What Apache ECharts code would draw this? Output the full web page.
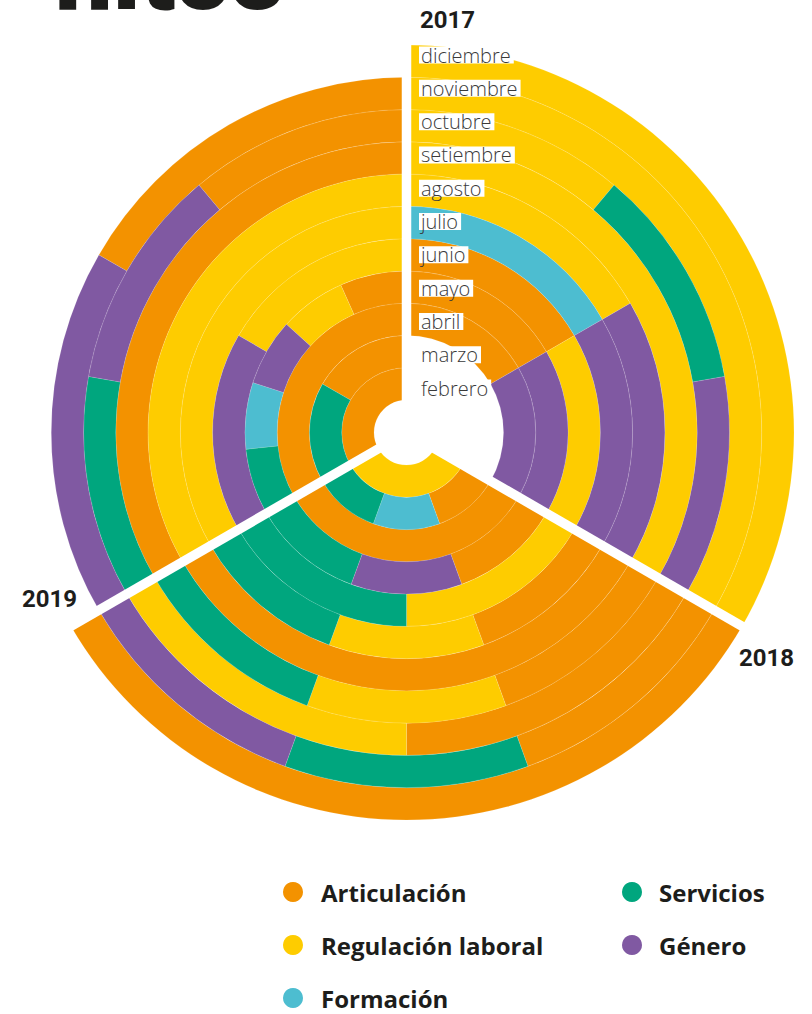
<!DOCTYPE html>
<html><head><meta charset="utf-8">
<script src="https://cdn.jsdelivr.net/npm/echarts@6/dist/echarts.min.js"></script>
<style>html,body{margin:0;padding:0;background:#fff}#c{width:812px;height:1014px}</style>
</head><body><div id="c"></div>
<script>
// ---- data ----
const months = ['febrero','marzo','abril','mayo','junio','julio','agosto','setiembre','octubre','noviembre','diciembre'];
const categories = ['Articulación','Regulación laboral','Formación','Servicios','Género'];
const catColors = ['#F39200','#FECC00','#4DBDD0','#00A67E','#8059A2'];
const years = ['2017','2018','2019'];
const [A, R, F, S, G] = categories;
// hitos per month (inner ring = febrero), in clockwise order inside each year sector
const hitos2017 = [[],[],[A,G],[A,G],[A,R],[F,G],[R,G],[R],[R,S,G],[R],[R]];
const hitos2018 = [[R],[A,F,S],[A],[A,G,S],[R,S],[A,R,S],[A],[A,R,S],[A,R],[A,S,G],[A]];
const hitos2019 = [[A],[S,A],[A],[S,F,G,R,A],[G,R],[R],[R],[A],[S,G,A],[G,A],[]];
const yearHitos = [hitos2017, hitos2018, hitos2019];

// ---- build segments ----
const yearSpan = 360 / years.length;
const segs = {};
categories.forEach(c => segs[c] = []);
yearHitos.forEach((rows, y) => {
  rows.forEach((items, m) => {
    const w = yearSpan / items.length;
    items.forEach((c, k) => segs[c].push([m, y * yearSpan + k * w, y * yearSpan + (k + 1) * w]));
  });
});

function renderSeg(params, api) {
  const cs = params.coordSys;
  const m = api.value(0), a0 = api.value(1), a1 = api.value(2);
  const p0 = api.coord([m, a0]), p1 = api.coord([m, a1]), q = api.coord([m + 1, a0]);
  const r0 = Math.hypot(p0[0] - cs.cx, p0[1] - cs.cy);
  const r = Math.hypot(q[0] - cs.cx, q[1] - cs.cy);
  const sa = Math.atan2(p0[1] - cs.cy, p0[0] - cs.cx);
  let ea = Math.atan2(p1[1] - cs.cy, p1[0] - cs.cx);
  while (ea <= sa + 1e-6) ea += 2 * Math.PI;
  return {
    type: 'sector',
    shape: { cx: cs.cx, cy: cs.cy, r0: r0, r: r, startAngle: sa, endAngle: ea, clockwise: true },
    style: { fill: api.visual('color'), stroke: 'rgba(255,255,255,0.25)', lineWidth: 0.5 }
  };
}
function renderGap(params, api) {
  const cs = params.coordSys;
  const p = api.coord([api.value(0) + 0.3, api.value(1)]);
  return { type: 'line', shape: { x1: cs.cx, y1: cs.cy, x2: p[0], y2: p[1] },
           style: { stroke: '#fff', lineWidth: 9.5, lineCap: 'butt' } };
}

const series = categories.map((c, i) => ({
  name: c, type: 'custom', coordinateSystem: 'polar', polarIndex: 0,
  itemStyle: { color: catColors[i] }, data: segs[c], renderItem: renderSeg, z: 2, silent: true
}));
series.push({
  name: 'gap', type: 'custom', coordinateSystem: 'polar', z: 5, silent: true,
  data: years.map((y, i) => [months.length, i * yearSpan]), renderItem: renderGap
});

const legendText = { fontFamily: 'Open Sans', fontWeight: 'bold', fontSize: 24, color: '#1d1d1b', lineHeight: 20 };
const chart = echarts.init(document.getElementById('c'), null, { renderer: 'svg' });
chart.setOption({
  animation: false,
  backgroundColor: '#fff',
  polar: { center: [406.5, 432.5], radius: [32.5, 387.5] },
  angleAxis: { type: 'value', min: 0, max: 360, startAngle: 90, clockwise: true, show: false },
  radiusAxis: { type: 'value', min: 0, max: months.length, show: false },
  grid: { left: 419, top: 38.4, width: 120, height: 366.3 },
  xAxis: { type: 'value', show: false },
  yAxis: {
    type: 'category', data: months, z: 10,
    axisLine: { show: false }, axisTick: { show: false }, splitLine: { show: false },
    axisLabel: { inside: true, margin: 0, interval: 0, color: '#3a3a3a', fontFamily: 'Open Sans',
      fontWeight: 300, fontSize: 20, lineHeight: 17, backgroundColor: '#fff', padding: [0, 3, 0, 2] }
  },
  legend: [
    { orient: 'vertical', left: 283, top: 880, height: 160, itemWidth: 20, itemHeight: 20, itemGap: 29, icon: 'circle',
      selectedMode: false, padding: 0, data: [A, R, F], textStyle: Object.assign({ padding: [0, 0, 0, 13] }, legendText) },
    { orient: 'vertical', left: 622, top: 880, height: 160, itemWidth: 20, itemHeight: 20, itemGap: 29, icon: 'circle',
      selectedMode: false, padding: 0, data: [S, G], textStyle: Object.assign({ padding: [0, 0, 0, 12] }, legendText) }
  ],
  graphic: [
    { type: 'text', x: 55, y: 25, style: { text: 'hitos', fontFamily: 'Roboto', fontWeight: 900, fontSize: 102, fill: '#1d1d1b', verticalAlign: 'bottom' } },
    { type: 'text', x: 420, y: 20, style: { text: years[0], fontFamily: 'Roboto', fontWeight: 'bold', fontSize: 24, fill: '#1d1d1b', verticalAlign: 'middle' } },
    { type: 'text', x: 739, y: 658, style: { text: years[1], fontFamily: 'Roboto', fontWeight: 'bold', fontSize: 24, fill: '#1d1d1b', verticalAlign: 'middle' } },
    { type: 'text', x: 22, y: 599, style: { text: years[2], fontFamily: 'Roboto', fontWeight: 'bold', fontSize: 24, fill: '#1d1d1b', verticalAlign: 'middle' } }
  ],
  series: series
});
</script></body></html>
